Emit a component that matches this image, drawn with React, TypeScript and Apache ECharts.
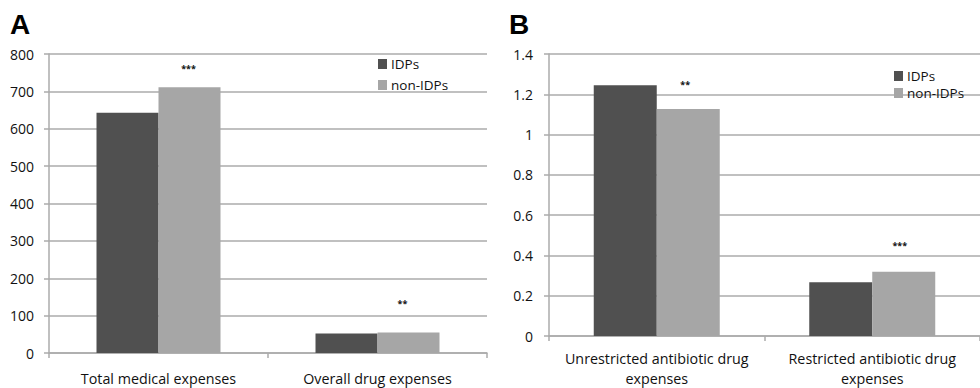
import React, { useEffect, useRef } from "react";
import * as echarts from "echarts";

const seriesNames = ["IDPs", "non-IDPs"];
const categoriesA = ["Total medical expenses", "Overall drug expenses"];
const idpsA = [643, 52];
const nonIdpsA = [711, 55];
const sigA = ["***", "**"];

const categoriesB = ["Unrestricted antibiotic drug\nexpenses", "Restricted antibiotic drug\nexpenses"];
const idpsB = [1.245, 0.267];
const nonIdpsB = [1.127, 0.319];
const sigB = ["**", "***"];

const axisA = { min: 0, max: 800, interval: 100 };
const axisB = { min: 0, max: 1.4, interval: 0.2 };

const DARK = "#505050";
const LIGHT = "#a6a6a6";
const GRID = "#ababab";
const FONT = "'Open Sans', 'Noto Sans', sans-serif";

export default function App() {
  const ref = useRef<HTMLDivElement>(null);
  useEffect(() => {
    if (!ref.current) return;
    const chart = echarts.init(ref.current, null, { renderer: "svg" });
    const yAxisCommon = {
      type: "value",
      axisLine: { show: true, lineStyle: { color: GRID, width: 1.5 } },
      axisTick: { show: true, length: 5, lineStyle: { color: GRID, width: 1.5 } },
      splitLine: { show: true, lineStyle: { color: GRID, width: 1.5 } },
      axisLabel: { color: "#111", fontSize: 14, fontFamily: FONT, margin: 15 },
    };
    const xAxisCommon = {
      type: "category",
      axisLine: { show: true, lineStyle: { color: GRID, width: 1.5 } },
      axisTick: { show: true, length: 5, lineStyle: { color: GRID, width: 1.5 } },
    };
    const sigLabel = (text: string, distance: number, dx: number) => ({
      show: true,
      position: "top",
      distance,
      offset: [dx, 0],
      formatter: text,
      color: "#111",
      fontSize: 9,
      fontWeight: "bold",
      fontFamily: FONT,
    });
    const legendCommon = {
      orient: "vertical", padding: 0, itemWidth: 9, itemHeight: 10,
      icon: "rect", data: seriesNames,
      textStyle: { fontSize: 13.5, lineHeight: 14, fontFamily: FONT, color: "#111", padding: [0, 0, 0, -1] },
    };
    const option = {
      animation: false,
      backgroundColor: "#fff",
      grid: [
        { left: 49, top: 54, width: 438, height: 305 },
        { left: 549, top: 54, width: 444, height: 284.7 },
      ],
      xAxis: [
        {
          ...xAxisCommon,
          gridIndex: 0,
          data: categoriesA,
          axisLabel: { interval: 0, color: "#111", fontSize: 14.3, fontFamily: FONT, margin: 15, lineHeight: 20 },
        },
        {
          ...xAxisCommon,
          gridIndex: 1,
          data: categoriesB,
          axisLabel: { interval: 0, color: "#111", fontSize: 14.3, fontFamily: FONT, margin: 12, lineHeight: 20 },
        },
      ],
      yAxis: [
        { ...yAxisCommon, gridIndex: 0, ...axisA },
        { ...yAxisCommon, gridIndex: 1, ...axisB, axisLabel: { ...yAxisCommon.axisLabel, margin: 16 } },
      ],
      legend: [
        { ...legendCommon, left: 378, top: 57, itemGap: 7 },
        { ...legendCommon, left: 894, top: 69, itemGap: 3 },
      ],
      graphic: [
        { type: "text", left: 10, top: 10, style: { text: "A", fontSize: 28, fontWeight: "bold", fontFamily: "'Liberation Sans', Arial, sans-serif", fill: "#000" } },
        { type: "text", left: 509, top: 10, style: { text: "B", fontSize: 28, fontWeight: "bold", fontFamily: "'Liberation Sans', Arial, sans-serif", fill: "#000" } },
      ],
      series: [
        {
          name: seriesNames[0], type: "bar", xAxisIndex: 0, yAxisIndex: 0,
          data: idpsA, barWidth: 62, barGap: "0%", itemStyle: { color: DARK },
        },
        {
          name: seriesNames[1], type: "bar", xAxisIndex: 0, yAxisIndex: 0, barWidth: 62, barGap: "0%",
          itemStyle: { color: LIGHT },
          data: nonIdpsA.map((v, i) => ({
            value: v,
            label: sigLabel(sigA[i], i === 0 ? 14 : 24, i === 0 ? -1 : -6),
          })),
        },
        {
          name: seriesNames[0], type: "bar", xAxisIndex: 1, yAxisIndex: 1,
          data: idpsB, barWidth: 63, barGap: "0%", itemStyle: { color: DARK },
        },
        {
          name: seriesNames[1], type: "bar", xAxisIndex: 1, yAxisIndex: 1, barWidth: 63, barGap: "0%",
          itemStyle: { color: LIGHT },
          data: nonIdpsB.map((v, i) => ({
            value: v,
            label: sigLabel(sigB[i], i === 0 ? 20 : 22, i === 0 ? -3 : -4),
          })),
        },
      ],
    };
    chart.setOption(option as any);
    return () => chart.dispose();
  }, []);
  return (
    <div
      ref={ref}
      style={{ position: "absolute", left: 0, top: 0, width: 980, height: 388 }}
    />
  );
}
